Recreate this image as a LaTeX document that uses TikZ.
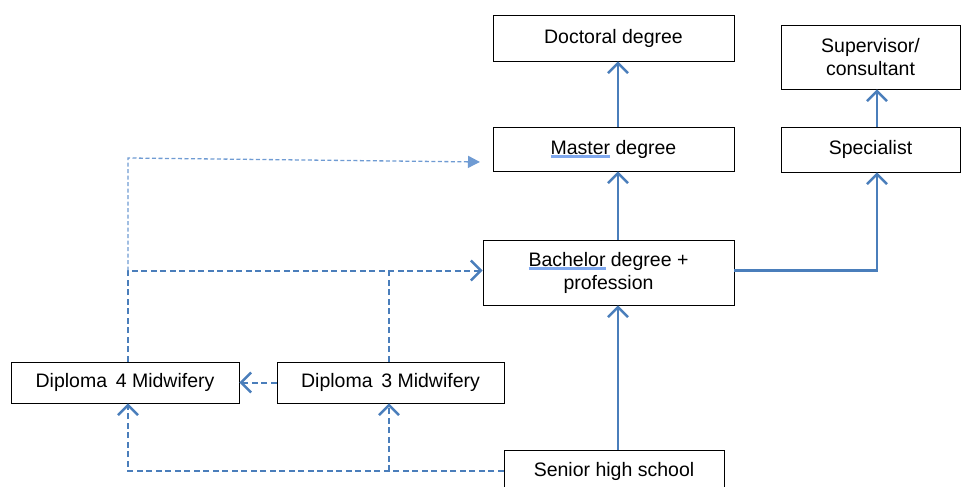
\documentclass[tikz,border=0pt]{standalone}
\usepackage{fontspec}
\setmainfont{Liberation Sans}
\usepackage{xcolor}
\usetikzlibrary{arrows.meta,positioning}
\definecolor{linkblue}{HTML}{4A7EBB}
\definecolor{thinblue}{HTML}{6F9BD3}
\definecolor{markblue}{HTML}{7FA8EE}
\newcommand{\spellmark}[1]{{\setbox0\hbox{#1}\rlap{\color{markblue}\rule[-4pt]{\wd0}{3pt}}\box0}}
\tikzset{
	box/.style={draw=black, line width=0.9pt, inner sep=0pt, align=center, font=\fontsize{19.5}{23}\selectfont},
	link/.style={draw=linkblue, line width=2.4pt, -{Straight Barb[length=10pt,width=20pt,line width=2.4pt]}},
	dlink/.style={link, line width=2pt, dash pattern=on 6pt off 3.5pt},
	tlink/.style={draw=thinblue, line width=1.3pt, dash pattern=on 4pt off 2.5pt, -{Triangle[length=12pt,width=12pt]}}
}
\begin{document}
\begin{tikzpicture}[x=1pt, y=-1pt]
			\useasboundingbox (0,0) rectangle (961,487);
			\node[box, minimum width=241pt, minimum height=46pt] (doctoral) at (613.5,38) {Doctoral degree};
			\node[box, minimum width=241pt, minimum height=44pt] (master) at (613.5,149) {\spellmark{Master} degree};
			\node[box, minimum width=251pt, minimum height=65pt] (bachelor) at (608.5,272.5) {\spellmark{Bachelor} degree +\\profession};
			\node[box, minimum width=179pt, minimum height=64pt] (supervisor) at (870.5,57) {Supervisor/\\consultant};
			\node[box, minimum width=179pt, minimum height=45pt] (specialist) at (870.5,149.5) {Specialist};
			\node[box, minimum width=228pt, minimum height=41pt] (dipfour) at (125,382.5) {Diploma\, 4 Midwifery};
			\node[box, minimum width=227pt, minimum height=41pt] (dipthree) at (390.5,382.5) {Diploma\, 3 Midwifery};
			\node[box, minimum width=220pt, minimum height=42pt] (senior) at (614,471) {Senior high school};
			\coordinate (spine) at (618,0);
			\coordinate (specx) at (877,0);
			\coordinate (fourx) at (128,0);
			\coordinate (threex) at (389,0);
			\coordinate (mtip) at (480,162);
			\draw[link] (master.north -| spine) -- (doctoral.south -| spine);
			\draw[link] (bachelor.north -| spine) -- (master.south -| spine);
			\draw[link] (senior.north -| spine) -- (bachelor.south -| spine);
			\draw[link] ([yshift=2pt]bachelor.east) -| (specialist.south -| specx);
			\draw[link] (specialist.north -| specx) -- (supervisor.south -| specx);
			\draw[dlink] (dipthree.west) -- (dipfour.east);
			\draw[dlink] (senior.west) -| (dipfour.south -| fourx);
			\draw[dlink] (senior.west -| threex) -- (dipthree.south -| threex);
			\draw[dlink] (dipfour.north -| fourx) |- ([yshift=2pt]bachelor.west);
			\draw[dlink, -] (dipthree.north -| threex) -- ([yshift=2pt]bachelor.west -| threex);
			\draw[tlink] ([yshift=2pt]bachelor.west -| fourx) -- (128,158) -- (mtip);
		\end{tikzpicture}
\end{document}
